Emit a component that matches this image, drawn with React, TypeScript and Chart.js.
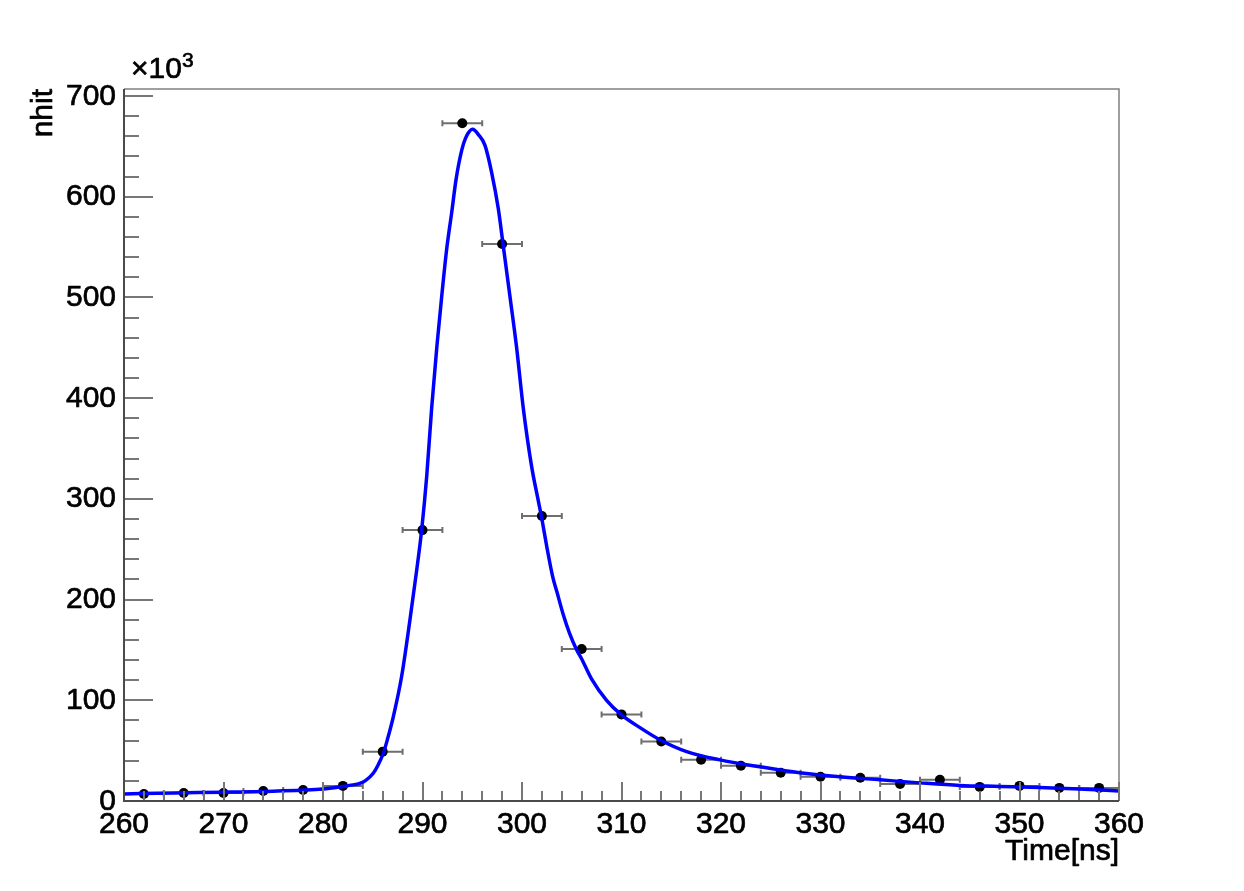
import React, { useEffect, useRef } from "react";
import { Chart, registerables } from "chart.js";

Chart.register(...registerables);

// Histogram bins (centres, ns) and contents (x10^3 hits)
const binCenters = [262, 266, 270, 274, 278, 282, 286, 290, 294, 298, 302, 306, 310, 314, 318, 322, 326, 330, 334, 338, 342, 346, 350, 354, 358];
const binValues = [7, 8, 8, 10, 11, 15, 49, 269, 673, 553, 283, 151, 86, 59, 41, 35, 28, 24, 23, 17, 21, 14, 15, 13, 13];
const binHalfWidth = 2;

// Fit curve (time in ns, value x10^3)
const fitTimes = [260, 265, 270, 275, 280, 282, 283, 283.7, 284.3, 285.05, 285.5, 286.06, 286.5, 287.07, 287.9, 288.74, 289.4, 289.92, 290.42, 290.92, 291.45, 291.93, 292.43, 292.93, 293.37, 293.94, 294.44, 295.04, 295.6, 296.28, 296.95, 297.62, 298.12, 298.79, 299.46, 300.13, 300.97, 301.64, 302, 302.5, 303.1, 303.5, 304.15, 304.8, 305.5, 306, 307, 308.5, 310, 311.9, 313.9, 316.55, 319.9, 323.9, 327.9, 332, 336, 340, 344, 348, 352, 356, 360];
const fitValues = [7, 8, 8.7, 9.8, 12, 14.5, 16, 17.6, 20.5, 27.5, 35, 47.4, 62, 83.8, 123.6, 180, 228, 269.5, 322, 390, 452, 501, 548, 584, 617, 646, 660.5, 667, 662, 651, 624, 588, 551, 501, 450, 390, 332, 298, 280, 252, 222, 208, 185, 166, 150, 141, 121, 100, 85.5, 72.6, 60.6, 49, 40.8, 34, 28, 24, 21, 18, 15.5, 14.5, 13.5, 12, 10];

// Axis ticks
const xMajorTicks = [260, 270, 280, 290, 300, 310, 320, 330, 340, 350, 360];
const xTickLabels = ["260", "270", "280", "290", "300", "310", "320", "330", "340", "350", "360"];
const yMajorTicks = [0, 100, 200, 300, 400, 500, 600, 700];
const yTickLabels = ["0", "100", "200", "300", "400", "500", "600", "700"];
const xMinorStep = 2;
const yMinorStep = 20;
const xMin = 260;
const xMax = 360;
const yMin = 0;
const yMax = 707;

const xTitle = "Time[ns]";
const yTitle = "nhit";

const FONT = '"Liberation Sans", Arial, sans-serif';

function drawText(ctx: CanvasRenderingContext2D, s: string, x: number, y: number) {
  ctx.strokeText(s, x, y);
  ctx.fillText(s, x, y);
}

const framePlugin = {
  id: "rootFrame",
  beforeDatasetsDraw(chart: any) {
    const ctx = chart.ctx;
    const xs = chart.scales.x;
    const ys = chart.scales.y;
    ctx.save();
    ctx.strokeStyle = "#6e6e6e";
    ctx.lineWidth = 2;
    binCenters.forEach((c, i) => {
      const x0 = xs.getPixelForValue(c - binHalfWidth);
      const x1 = xs.getPixelForValue(c + binHalfWidth);
      const y = ys.getPixelForValue(binValues[i]);
      ctx.beginPath();
      ctx.moveTo(x0, y);
      ctx.lineTo(x1, y);
      ctx.moveTo(x0, y - 3);
      ctx.lineTo(x0, y + 3);
      ctx.moveTo(x1, y - 3);
      ctx.lineTo(x1, y + 3);
      ctx.stroke();
    });
    ctx.restore();
  },
  afterDraw(chart: any) {
    const ctx = chart.ctx;
    const xs = chart.scales.x;
    const ys = chart.scales.y;
    const { left, right, top, bottom } = chart.chartArea;
    ctx.save();

    // frame top / right
    ctx.strokeStyle = "#808080";
    ctx.lineWidth = 1.5;
    ctx.beginPath();
    ctx.moveTo(left, top);
    ctx.lineTo(right, top);
    ctx.lineTo(right, bottom);
    ctx.stroke();

    // ticks
    ctx.strokeStyle = "#777777";
    ctx.lineWidth = 2;
    ctx.beginPath();
    for (let v = xMin; v <= xMax + 1e-9; v += xMinorStep) {
      const x = Math.round(xs.getPixelForValue(v));
      const major = xMajorTicks.includes(v);
      ctx.moveTo(x, bottom);
      ctx.lineTo(x, bottom - (major ? 19 : 10));
    }
    for (let v = yMin; v <= 700 + 1e-9; v += yMinorStep) {
      const y = Math.round(ys.getPixelForValue(v));
      const major = yMajorTicks.includes(v);
      ctx.moveTo(left, y);
      ctx.lineTo(left + (major ? 29 : 15), y);
    }
    ctx.stroke();

    // axes left / bottom
    ctx.strokeStyle = "#4a4a4a";
    ctx.lineWidth = 2;
    ctx.beginPath();
    ctx.moveTo(left, top);
    ctx.lineTo(left, bottom);
    ctx.lineTo(right, bottom);
    ctx.stroke();

    // tick labels
    ctx.fillStyle = "#000000";
    ctx.strokeStyle = "#000000";
    ctx.lineWidth = 0.7;
    ctx.lineJoin = "round";
    ctx.font = `30px ${FONT}`;
    ctx.textAlign = "center";
    ctx.textBaseline = "alphabetic";
    xMajorTicks.forEach((v, i) => {
      drawText(ctx, xTickLabels[i], xs.getPixelForValue(v), bottom + 32);
    });
    ctx.textAlign = "right";
    yMajorTicks.forEach((v, i) => {
      drawText(ctx, yTickLabels[i], left - 8, ys.getPixelForValue(v) + 8.5);
    });

    // exponent
    ctx.textAlign = "left";
    ctx.font = `30px ${FONT}`;
    drawText(ctx, "\u00d710", 131, 78);
    ctx.font = `21px ${FONT}`;
    drawText(ctx, "3", 182, 67);

    // titles
    ctx.font = `30px ${FONT}`;
    ctx.textAlign = "right";
    drawText(ctx, xTitle, right, 860);
    ctx.save();
    ctx.translate(52, top);
    ctx.rotate(-Math.PI / 2);
    ctx.textAlign = "right";
    drawText(ctx, yTitle, 0, 0);
    ctx.restore();

    ctx.restore();
  },
};

export default function App() {
  const ref = useRef<HTMLCanvasElement | null>(null);
  useEffect(() => {
    document.body.style.margin = "0";
    const canvas = ref.current!;
    const chart = new Chart(canvas, {
      type: "scatter",
      data: {
        datasets: [
          {
            type: "line",
            label: "fit",
            data: fitTimes.map((t, i) => ({ x: t, y: fitValues[i] })),
            borderColor: "#0000ff",
            borderWidth: 3.5,
            pointRadius: 0,
            showLine: true,
            fill: false,
            cubicInterpolationMode: "monotone",
          } as any,
          {
            label: "nhit",
            data: binCenters.map((c, i) => ({ x: c, y: binValues[i] })),
            backgroundColor: "#000000",
            borderColor: "#000000",
            borderWidth: 0,
            pointRadius: 5,
            showLine: false,
          },
        ],
      },
      options: {
        animation: false,
        responsive: false,
        devicePixelRatio: 1,
        layout: { padding: { left: 124, right: 125, top: 89, bottom: 90 } },
        plugins: { legend: { display: false }, tooltip: { enabled: false } },
        scales: {
          x: { type: "linear", min: xMin, max: xMax, display: false },
          y: { type: "linear", min: yMin, max: yMax, display: false },
        },
      },
      plugins: [framePlugin],
    });
    return () => chart.destroy();
  }, []);
  return (
    <canvas
      ref={ref}
      width={1244}
      height={891}
      style={{ position: "absolute", left: 0, top: 0, width: 1244, height: 891, background: "#fff" }}
    />
  );
}
